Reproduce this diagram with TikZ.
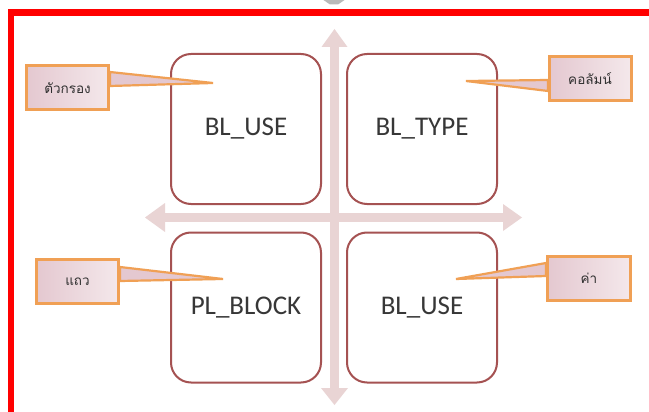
\documentclass[tikz,border=0pt]{standalone}
\usepackage{fontspec}
\setmainfont{Carlito}
\newfontfamily\thaifont[Script=Thai]{Loma}
\usetikzlibrary{calc}
\definecolor{redframe}{RGB}{255,0,0}
\definecolor{axiscol}{RGB}{233,212,212}
\definecolor{boxline}{RGB}{165,82,82}
\definecolor{txtcol}{RGB}{55,55,55}
\definecolor{calloutline}{RGB}{240,160,85}
\definecolor{calloutfill}{RGB}{228,200,208}
\definecolor{calloutfillB}{RGB}{244,232,235}
\definecolor{chevcol}{RGB}{185,185,185}
\tikzset{
  quadbox/.style={draw=boxline, line width=2pt, fill=white, rounded corners=20pt,
    minimum width=150pt, minimum height=150pt, inner sep=0pt,
    font=\fontsize{27}{30}\selectfont, text=txtcol},
  callout/.style={draw=calloutline, line width=3pt, left color=calloutfill, right color=calloutfillB,
    minimum width=82pt, minimum height=44pt, inner sep=0pt,
    font=\thaifont\fontsize{13.5}{15}\selectfont, text=txtcol!85!black},
  wedge/.style={draw=calloutline, line width=2.2pt, fill=calloutfill, line join=miter},
  axis/.style={fill=axiscol, draw=none}
}
\begin{document}
\begin{tikzpicture}[x=1pt,y=-1pt]
\useasboundingbox (0,0) rectangle (649,412);
\fill[white] (0,0) rectangle (649,412);
\clip (0,0) rectangle (649,412);
% grey chevron at top
\fill[chevcol] (322,-1) -- (346,-1) -- (338,4.5) -- (330,4.5) -- cycle;
% red frame
\draw[redframe, line width=6.5pt] (11,420) -- (11,12.5) -- (660,12.5);
% axes
\coordinate (vtop) at (334.5,29);
\coordinate (vbot) at (334.5,405);
\coordinate (hl) at (145,217.5);
\coordinate (hr) at (522,217.5);
\fill[axis] ($(vtop)+(-4.5,18)$) rectangle ($(vbot)+(4.5,-17)$);
\fill[axis] (vtop) -- ($(vtop)+(13,18)$) -- ($(vtop)+(-13,18)$) -- cycle;
\fill[axis] (vbot) -- ($(vbot)+(13.5,-17)$) -- ($(vbot)+(-13.5,-17)$) -- cycle;
\fill[axis] ($(hl)+(20,-4.5)$) rectangle ($(hr)+(-19,4.5)$);
\fill[axis] (hl) -- ($(hl)+(20,-14.5)$) -- ($(hl)+(20,14.5)$) -- cycle;
\fill[axis] (hr) -- ($(hr)+(-19,-13.5)$) -- ($(hr)+(-19,13.5)$) -- cycle;
% quadrant boxes
\node[quadbox] (q1) at (246,129) {BL\_USE};
\node[quadbox] (q2) at (422,129) {BL\_TYPE};
\node[quadbox] (q3) at (246,307.5) {PL\_BLOCK};
\node[quadbox] (q4) at (422,307.5) {BL\_USE};
% callout tips
\coordinate (t1) at (213,83);
\coordinate (t2) at (466,81);
\coordinate (t3) at (223,279);
\coordinate (t4) at (456,279);
% callout boxes (positions)
\path (67.5,88) coordinate (p1) (590,78.5) coordinate (p2) (77.5,281.5) coordinate (p3) (589,278.5) coordinate (p4);
% wedges
\draw[wedge] (110,72) -- (t1) -- (110,86) -- cycle;
\draw[wedge] (548,80) -- (t2) -- (548,91) -- cycle;
\draw[wedge] (120,267) -- (t3) -- (120,281) -- cycle;
\draw[wedge] (546,263) -- (t4) -- (546,276) -- cycle;
% callouts
\node[callout] (c1) at (p1) {ตัวกรอง};
\node[callout] (c2) at (p2) {คอลัมน์};
\node[callout] (c3) at (p3) {แถว};
\node[callout, minimum width=83pt] (c4) at (p4) {ค่า};
\end{tikzpicture}
\end{document}
